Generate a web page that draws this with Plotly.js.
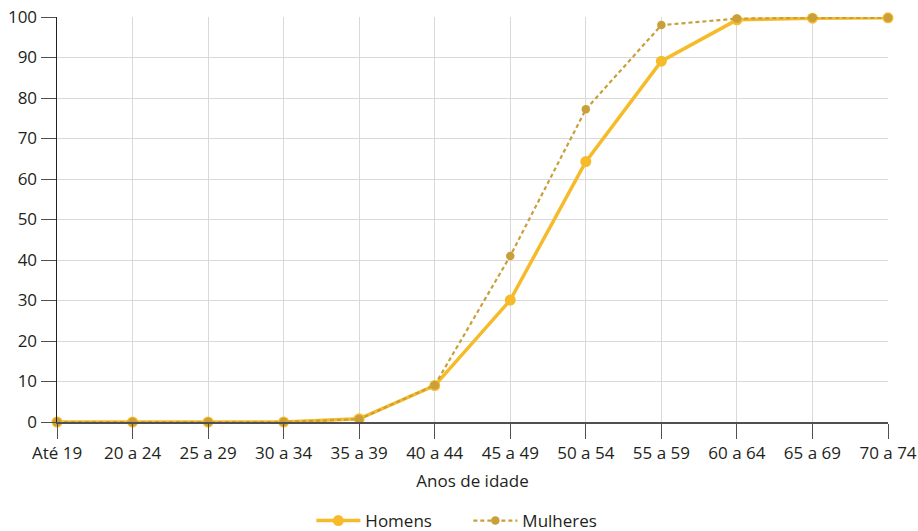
<!DOCTYPE html>
<html><head><meta charset="utf-8">
<script src="https://cdn.plot.ly/plotly-3.0.1.min.js"></script>
<style>body{margin:0;}#chart{width:918px;height:531px;}</style>
</head><body><div id="chart"></div>
<script>
const categories = ["Até 19","20 a 24","25 a 29","30 a 34","35 a 39","40 a 44","45 a 49","50 a 54","55 a 59","60 a 64","65 a 69","70 a 74"];
const homens = [0,0,0,0,0.8,9,30.1,64.3,89.1,99.3,99.7,99.8];
const mulheres = [0,0,0,0,0.7,9.1,41,77.2,98,99.6,99.8,99.8];
const yTicks = [0,10,20,30,40,50,60,70,80,90,100];

const font = {family:"Open Sans, Noto Sans, sans-serif", size:17, color:"#231f20"};
const data = [
 {x:categories, y:homens, name:"Homens", type:"scatter", mode:"lines+markers",
  line:{color:"#F6BB2A", width:3.5}, marker:{color:"#F6BB2A", size:11}, cliponaxis:false},
 {x:categories, y:mulheres, name:"Mulheres", type:"scatter", mode:"lines+markers",
  line:{color:"#C99F3A", width:2.2, dash:"4px,3px"}, marker:{color:"#C99F3A", size:8.5}, cliponaxis:false}
];
const layout = {
 width:918, height:531, font:font,
 margin:{l:57, r:30, t:17, b:109, autoexpand:false},
 paper_bgcolor:"#fff", plot_bgcolor:"#fff",
 showlegend:true,
 legend:{orientation:"h", x:0.495, xanchor:"center", y:-0.2, yanchor:"top", font:font, traceorder:"normal",
  itemwidth:44, entrywidth:98, entrywidthmode:"pixels"},
 xaxis:{type:"category", range:[0,11], showgrid:true, gridcolor:"#d9d9d9", gridwidth:1, automargin:false,
  showline:true, linecolor:"#505050", linewidth:1.5, ticks:"outside", ticklen:15, tickcolor:"#505050",
  title:{text:"Anos de idade", font:font, standoff:12}, zeroline:false, fixedrange:true},
 yaxis:{range:[0,100], tickvals:yTicks, showgrid:true, gridcolor:"#d9d9d9", gridwidth:1, automargin:false,
  showline:true, linecolor:"#222", linewidth:1.5, ticks:"outside", ticklen:15, tickcolor:"#505050",
  zeroline:false, fixedrange:true},
 annotations:[{text:"(em %)", xref:"paper", yref:"paper", x:(70-57)/831, xanchor:"left", y:1.033, yanchor:"bottom", showarrow:false, font:font}]
};
Plotly.newPlot("chart", data, layout, {displayModeBar:false, staticPlot:true});
</script></body></html>
